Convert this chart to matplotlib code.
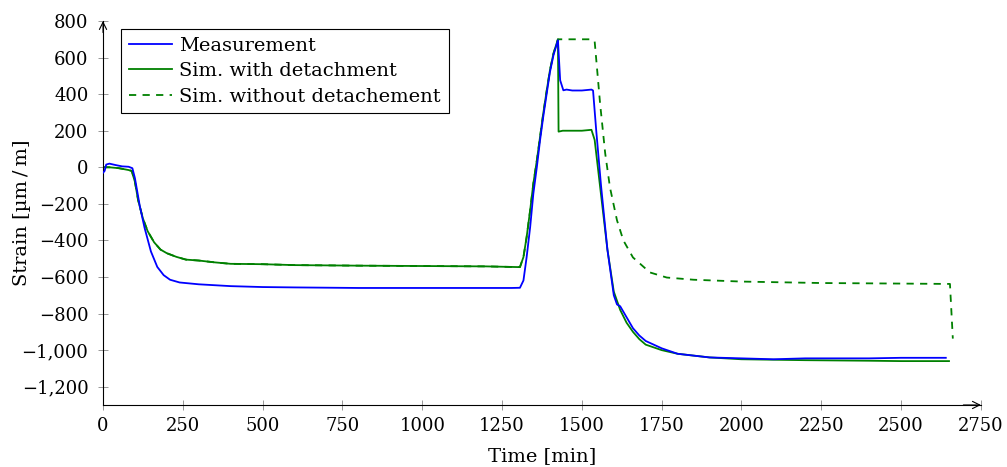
import matplotlib
matplotlib.use("Agg")
import matplotlib.pyplot as plt
from matplotlib.ticker import FuncFormatter

plt.rcParams['font.family'] = ['DejaVu Serif']
plt.rcParams['font.size'] = 13
plt.rcParams['axes.unicode_minus'] = True

# strain gauge measurement [min, um/m]
meas_t = [0, 5, 10, 20, 40, 60, 80, 92, 100, 115, 130, 150, 170, 190, 210, 240, 300,
          400, 500, 600, 800, 1000, 1200, 1280, 1306, 1317, 1327, 1338, 1348, 1359,
          1369, 1379, 1390, 1400, 1411, 1425, 1432, 1442, 1452, 1470, 1500, 1530,
          1535, 1545, 1560, 1580, 1600, 1610, 1620, 1640, 1660, 1680, 1700, 1750,
          1800, 1850, 1900, 2000, 2100, 2200, 2300, 2400, 2500, 2640]
meas_v = [-30, -20, 15, 20, 12, 5, 3, -5, -60, -210, -330, -460, -545, -590, -615,
          -630, -640, -650, -655, -657, -660, -660, -660, -660, -659, -619, -491,
          -327, -144, 2, 148, 276, 405, 521, 613, 695, 476, 421, 425, 420, 420, 425,
          420, 200, -100, -450, -700, -750, -760, -820, -880, -920, -950, -990,
          -1020, -1030, -1040, -1045, -1050, -1045, -1045, -1045, -1042, -1042]

# simulation with detachment
det_t = [0, 20, 50, 80, 90, 100, 110, 125, 140, 160, 180, 200, 230, 260, 300, 350,
         400, 500, 600, 800, 1000, 1200, 1280, 1306, 1317, 1327, 1338, 1348, 1359,
         1369, 1379, 1390, 1400, 1411, 1425, 1427, 1440, 1500, 1530, 1540, 1560,
         1580, 1600, 1620, 1640, 1660, 1680, 1700, 1750, 1800, 1900, 2000, 2200,
         2400, 2500, 2650]
det_v = [0, 0, -5, -15, -20, -80, -180, -280, -350, -410, -450, -470, -490, -505,
         -510, -520, -528, -530, -535, -538, -540, -542, -545, -546, -491, -381,
         -235, -89, 38, 166, 294, 421, 531, 622, 700, 195, 200, 200, 205, 150,
         -150, -450, -680, -780, -850, -900, -940, -970, -1000, -1020, -1040,
         -1050, -1055, -1058, -1060, -1060]

# simulation without detachment
nodet_t = [0, 20, 50, 80, 90, 100, 110, 125, 140, 160, 180, 200, 230, 260, 300, 350,
           400, 500, 600, 800, 1000, 1200, 1280, 1306, 1317, 1327, 1338, 1348, 1359,
           1369, 1379, 1390, 1400, 1411, 1425, 1440, 1500, 1530, 1540, 1557, 1573,
           1588, 1610, 1630, 1660, 1713, 1766, 1850, 2000, 2250, 2500, 2653, 2662]
nodet_v = [0, 0, -5, -15, -20, -80, -180, -280, -350, -410, -450, -470, -490, -505,
           -510, -520, -528, -530, -535, -538, -540, -542, -545, -546, -491, -381,
           -235, -89, 38, 166, 294, 421, 531, 622, 700, 700, 700, 700, 690, 350, 77,
           -110, -290, -400, -493, -575, -603, -615, -625, -633, -636, -638, -937]

x_ticks = [0, 250, 500, 750, 1000, 1250, 1500, 1750, 2000, 2250, 2500, 2750]
y_ticks = [-1200, -1000, -800, -600, -400, -200, 0, 200, 400, 600, 800]

fig = plt.figure(figsize=(10.07, 4.67), dpi=100)
ax = fig.add_axes([0.1023, 0.1328, 0.8718, 0.8222])

ax.plot(meas_t, meas_v, color='#0000ff', lw=1.3, label='Measurement', zorder=3)
ax.plot(det_t, det_v, color='#008000', lw=1.3, label='Sim. with detachment', zorder=2)
ax.plot(nodet_t, nodet_v, color='#008000', lw=1.3, dashes=(4, 3.5),
        label='Sim. without detachement', zorder=1)

ax.set_xlim(0, 2750)
ax.set_ylim(-1300, 800)
ax.set_xticks(x_ticks)
ax.set_yticks(y_ticks)
ax.yaxis.set_major_formatter(FuncFormatter(lambda v, p: f"{int(v):,}".replace('-', '\u2212')))
ax.xaxis.set_major_formatter(FuncFormatter(lambda v, p: f"{int(v)}"))

for side in ['top', 'right']:
    ax.spines[side].set_visible(False)
for side in ['left', 'bottom']:
    ax.spines[side].set_linewidth(0.8)
ax.tick_params(direction='inout', length=7, width=0.6, color='#888888')
ax.tick_params(axis='x', pad=5)
ax.tick_params(axis='y', pad=7)

# arrow heads on the axis lines
ax.annotate('', xy=(1.0, 0), xytext=(0.98, 0), xycoords='axes fraction',
            arrowprops=dict(arrowstyle='->', lw=0.8, color='black', shrinkA=0, shrinkB=0))
ax.annotate('', xy=(0, 1.0), xytext=(0, 0.97), xycoords='axes fraction',
            arrowprops=dict(arrowstyle='->', lw=0.8, color='black', shrinkA=0, shrinkB=0))

ax.set_xlabel('Time [min]', fontsize=14, labelpad=9)
ax.set_ylabel('Strain [µm\u2009/\u2009m]', fontsize=14)
ax.yaxis.set_label_coords(-0.082, 0.5)

leg = ax.legend(loc='upper left', bbox_to_anchor=(0.0205, 0.979), frameon=True, fancybox=False,
                edgecolor='black', framealpha=1, handlelength=2.2, handletextpad=0.4,
                borderpad=0.4, labelspacing=0.38, borderaxespad=0, fontsize=14)
leg.get_frame().set_linewidth(0.8)

fig.savefig('out.png', dpi=100)
